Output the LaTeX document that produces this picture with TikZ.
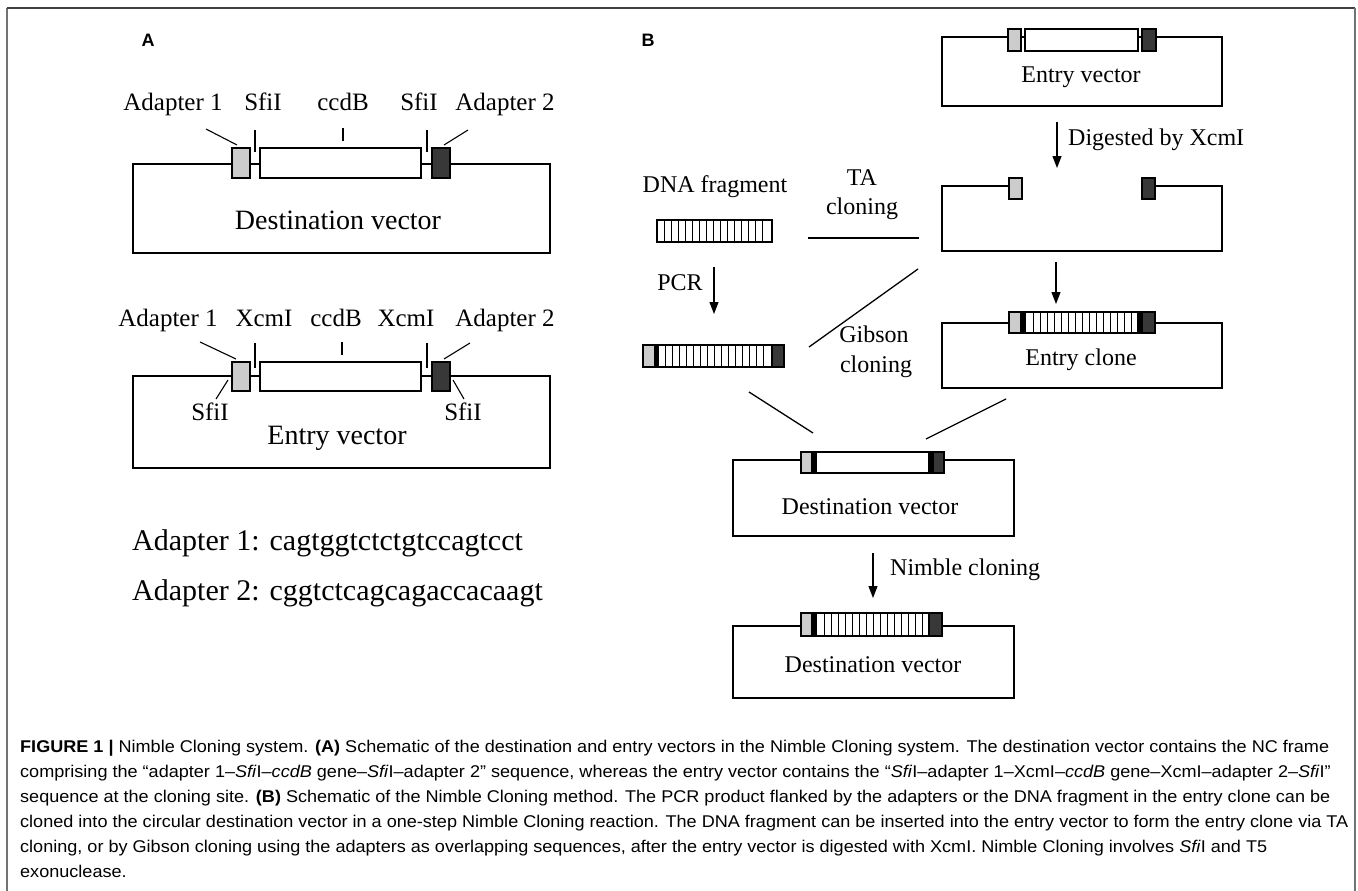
\documentclass[tikz,border=0pt]{standalone}
\usepackage{fontspec}
\usepackage{graphicx}
\setmainfont{Liberation Serif}
\newfontfamily\capfont{Liberation Sans}
\usetikzlibrary{arrows.meta}
\definecolor{lightad}{gray}{0.80}
\definecolor{darkad}{gray}{0.22}
\definecolor{framegray}{gray}{0.45}
\newsavebox\capbox
\newcommand\capsize{\capfont\fontsize{17}{25}\selectfont}
\begin{document}%
\sbox\capbox{\capsize\textbf{FIGURE 1 |} Nimble Cloning system. \textbf{(A)} Schematic of the destination and entry vectors in the Nimble Cloning system. The destination vector contains the NC frame}%
\pgfmathsetmacro\capsc{1309/\the\wd\capbox}%
\begin{tikzpicture}[x=1pt,y=-1pt,
  vec/.style={line width=2.2pt,line join=miter},
  feat/.style={draw=black,line width=2pt},
  lead/.style={line width=1.1pt},
  conn/.style={line width=1.3pt},
  arr/.style={line width=1.2pt,-{Triangle[length=12pt,width=9pt]}},
  hatch/.style={line width=0.8pt},
  lblA/.style={anchor=mid,inner sep=0pt,font=\fontsize{25}{25}\selectfont},
  boxA/.style={anchor=mid,inner sep=0pt,font=\fontsize{28}{28}\selectfont},
  seqA/.style={anchor=mid west,inner sep=0pt,font=\fontsize{30}{30}\selectfont},
  txtB/.style={anchor=mid,inner sep=0pt,font=\fontsize{24}{24}\selectfont},
  panel/.style={anchor=mid,inner sep=0pt,font=\capfont\bfseries\fontsize{18}{18}\selectfont},
  capline/.style={anchor=mid west,inner sep=0pt}]
\useasboundingbox (0,0) rectangle (1358,891);
% frame
\coordinate (fr-bl) at (7,891); \coordinate (fr-tl) at (7,8);
\coordinate (fr-tr) at (1355,8); \coordinate (fr-br) at (1355,891);
\draw[framegray,line width=1.5pt] (fr-bl) -- (fr-tl);
\draw[black!75,line width=1.5pt] (fr-tl) -- (fr-tr);
\draw[framegray,line width=1.5pt] (fr-tr) -- (fr-br);
% panel labels
\node[panel] (labA) at (148,44) {A};
\node[panel] (labB) at (648,44) {B};

% ================= Panel A: destination vector =================
\draw[vec] (133,164) -- (133,253) -- (550,253) -- (550,164) -- cycle;
\filldraw[feat,fill=lightad] (232,148) rectangle (250,178);
\filldraw[feat,fill=white] (260,148) rectangle (421,178);
\filldraw[feat,fill=darkad] (432,148) rectangle (450,178);
\node[lblA] (da-a1) at (173,108) {Adapter 1};
\node[lblA] (da-s1) at (263,108) {SfiI};
\node[lblA] (da-cc) at (343,108) {ccdB};
\node[lblA] (da-s2) at (419,108) {SfiI};
\node[lblA] (da-a2) at (505,108) {Adapter 2};
\coordinate (da-a1s) at (206,129); \coordinate (da-a1e) at (237,145);
\coordinate (da-s1s) at (255,130); \coordinate (da-s1e) at (255,152);
\coordinate (da-ccs) at (343,128); \coordinate (da-cce) at (343,141);
\coordinate (da-s2s) at (427,130); \coordinate (da-s2e) at (427,152);
\coordinate (da-a2s) at (468,130); \coordinate (da-a2e) at (444,145);
\draw[lead] (da-a1s) -- (da-a1e);
\draw[lead] (da-s1s) -- (da-s1e);
\draw[lead] (da-ccs) -- (da-cce);
\draw[lead] (da-s2s) -- (da-s2e);
\draw[lead] (da-a2s) -- (da-a2e);
\node[boxA] (da-t) at (338,227) {Destination vector};

% ================= Panel A: entry vector =================
\draw[vec] (133,376) -- (133,468) -- (550,468) -- (550,376) -- cycle;
\filldraw[feat,fill=lightad] (232,362) rectangle (250,391);
\filldraw[feat,fill=white] (260,362) rectangle (421,391);
\filldraw[feat,fill=darkad] (432,362) rectangle (450,391);
\node[lblA] (ea-a1) at (168,324) {Adapter 1};
\node[lblA] (ea-x1) at (264,324) {XcmI};
\node[lblA] (ea-cc) at (336,324) {ccdB};
\node[lblA] (ea-x2) at (406,324) {XcmI};
\node[lblA] (ea-a2) at (505,324) {Adapter 2};
\coordinate (ea-a1s) at (200,342); \coordinate (ea-a1e) at (236,359);
\coordinate (ea-x1s) at (255,343); \coordinate (ea-x1e) at (255,368);
\coordinate (ea-ccs) at (342,342); \coordinate (ea-cce) at (342,355);
\coordinate (ea-x2s) at (427,343); \coordinate (ea-x2e) at (427,368);
\coordinate (ea-a2s) at (470,343); \coordinate (ea-a2e) at (444,359);
\draw[lead] (ea-a1s) -- (ea-a1e);
\draw[lead] (ea-x1s) -- (ea-x1e);
\draw[lead] (ea-ccs) -- (ea-cce);
\draw[lead] (ea-x2s) -- (ea-x2e);
\draw[lead] (ea-a2s) -- (ea-a2e);
\node[lblA] (ea-sf1) at (210,418) {SfiI};
\node[lblA] (ea-sf2) at (463,418) {SfiI};
\coordinate (ea-sf1s) at (228,380); \coordinate (ea-sf1e) at (216,399);
\coordinate (ea-sf2s) at (453,380); \coordinate (ea-sf2e) at (464,399);
\draw[lead] (ea-sf1s) -- (ea-sf1e);
\draw[lead] (ea-sf2s) -- (ea-sf2e);
\node[boxA] (ea-t) at (337,442) {Entry vector};

% adapter sequences
\node[seqA] (seq1) at (132,548) {Adapter 1: cagtggtctctgtccagtcct};
\node[seqA] (seq2) at (132,598) {Adapter 2: cggtctcagcagaccacaagt};

% ================= Panel B: entry vector =================
\draw[vec] (942,37) -- (942,106) -- (1222,106) -- (1222,37) -- cycle;
\filldraw[feat,fill=lightad] (1008,29) rectangle (1021,51);
\filldraw[feat,fill=white] (1025,29) rectangle (1138,51);
\filldraw[feat,fill=darkad] (1142,29) rectangle (1156,51);
\node[txtB] (eb-t) at (1081,80) {Entry vector};

\coordinate (a1s) at (1057,122); \coordinate (a1e) at (1057,168);
\draw[arr] (a1s) -- (a1e);
\node[txtB,anchor=mid west] (dig) at (1068,143) {Digested by XcmI};

% digested vector
\draw[vec] (1009,186) -- (942,186) -- (942,251) -- (1222,251) -- (1222,186) -- (1155,186);
\filldraw[feat,fill=lightad] (1009,178) rectangle (1022,199);
\filldraw[feat,fill=darkad] (1142,178) rectangle (1155,199);

\coordinate (a2s) at (1056,262); \coordinate (a2e) at (1056,304);
\draw[arr] (a2s) -- (a2e);

% entry clone
\draw[vec] (942,323) -- (942,388) -- (1222,388) -- (1222,323) -- cycle;
\filldraw[feat,fill=white] (1009,312) rectangle (1155,333);
\foreach \x in {1033,1040,...,1133} \draw[hatch] (\x,313) -- (\x,332);
\filldraw[feat,fill=lightad] (1009,312) rectangle (1021,333);
\fill[black] (1021,312) rectangle (1026,333);
\fill[black] (1137,312) rectangle (1142,333);
\filldraw[feat,fill=darkad] (1142,312) rectangle (1155,333);
\node[txtB] (ec-t) at (1081,363) {Entry clone};

% DNA fragment
\node[txtB] (dna) at (715,190) {DNA fragment};
\draw[feat,fill=white] (657,220) rectangle (772,242);
\foreach \x in {664,671,...,766} \draw[hatch] (\x,221) -- (\x,241);

\node[txtB] (ta1) at (862,183) {TA};
\node[txtB] (ta2) at (862,212) {cloning};
\coordinate (tas) at (808,238); \coordinate (tae) at (919,238);
\draw[conn] (tas) -- (tae);

\coordinate (a3s) at (714,267); \coordinate (a3e) at (714,314);
\draw[arr] (a3s) -- (a3e);
\node[txtB] (pcr) at (680,288) {PCR};

% PCR product
\filldraw[feat,fill=white] (643,345) rectangle (784,367);
\foreach \x in {665,672,...,766} \draw[hatch] (\x,346) -- (\x,366);
\filldraw[feat,fill=lightad] (643,345) rectangle (655,367);
\fill[black] (655,345) rectangle (659,367);
\filldraw[feat,fill=darkad] (772,345) rectangle (784,367);

\node[txtB] (gib1) at (874,340) {Gibson};
\node[txtB] (gib2) at (876,370) {cloning};
\coordinate (gbs) at (809,347); \coordinate (gbe) at (918,269);
\draw[conn] (gbs) -- (gbe);

\coordinate (l1s) at (749,392); \coordinate (l1e) at (813,433);
\coordinate (l2s) at (1006,399); \coordinate (l2e) at (926,439);
\draw[conn] (l1s) -- (l1e);
\draw[conn] (l2s) -- (l2e);

% destination vector (middle)
\draw[vec] (733,460) -- (733,536) -- (1014,536) -- (1014,460) -- cycle;
\filldraw[feat,fill=white] (801,452) rectangle (944,473);
\filldraw[feat,fill=lightad] (801,452) rectangle (812,473);
\fill[black] (812,452) rectangle (817,473);
\fill[black] (928,452) rectangle (933,473);
\filldraw[feat,fill=darkad] (933,452) rectangle (944,473);
\node[txtB] (dm-t) at (870,512) {Destination vector};

\coordinate (a4s) at (873,553); \coordinate (a4e) at (873,598);
\draw[arr] (a4s) -- (a4e);
\node[txtB,anchor=mid west] (nim) at (890,573) {Nimble cloning};

% destination vector (final)
\draw[vec] (733,626) -- (733,698) -- (1014,698) -- (1014,626) -- cycle;
\filldraw[feat,fill=white] (801,613) rectangle (942,636);
\foreach \x in {824,831,...,924} \draw[hatch] (\x,614) -- (\x,635);
\filldraw[feat,fill=lightad] (801,613) rectangle (812,636);
\fill[black] (812,613) rectangle (817,636);
\filldraw[feat,fill=darkad] (929,613) rectangle (942,636);
\node[txtB] (df-t) at (873,670) {Destination vector};

% ================= caption =================
\node[capline] (cap1) at (20,750) {\scalebox{\capsc}[1]{\usebox\capbox}};
\node[capline] (cap2) at (20,775) {\scalebox{\capsc}[1]{\capsize comprising the “adapter 1–\textit{Sfi}I–\textit{ccdB} gene–\textit{Sfi}I–adapter 2” sequence, whereas the entry vector contains the “\textit{Sfi}I–adapter 1–XcmI–\textit{ccdB} gene–XcmI–adapter 2–\textit{Sfi}I”}};
\node[capline] (cap3) at (20,800) {\scalebox{\capsc}[1]{\capsize sequence at the cloning site. \textbf{(B)} Schematic of the Nimble Cloning method. The PCR product flanked by the adapters or the DNA fragment in the entry clone can be}};
\node[capline] (cap4) at (20,825) {\scalebox{\capsc}[1]{\capsize cloned into the circular destination vector in a one-step Nimble Cloning reaction. The DNA fragment can be inserted into the entry vector to form the entry clone via TA}};
\node[capline] (cap5) at (20,850) {\scalebox{\capsc}[1]{\capsize cloning, or by Gibson cloning using the adapters as overlapping sequences, after the entry vector is digested with XcmI. Nimble Cloning involves \textit{Sfi}I and T5}};
\node[capline] (cap6) at (20,875) {\scalebox{\capsc}[1]{\capsize exonuclease.}};
\end{tikzpicture}%
\end{document}
